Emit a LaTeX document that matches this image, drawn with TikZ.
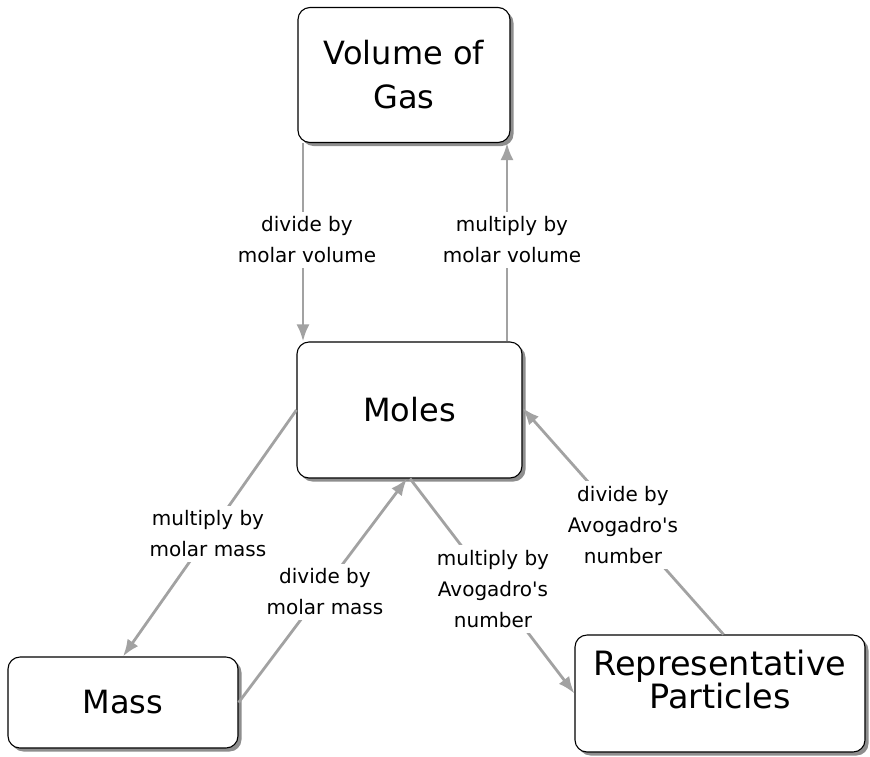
\documentclass[tikz,border=0pt]{standalone}
\usepackage{fontspec}
\setmainfont{DejaVu Sans}
\usetikzlibrary{arrows.meta,shadows}
\definecolor{arrowgray}{HTML}{A2A2A2}
\definecolor{shadowgray}{HTML}{8E8E8E}
\begin{document}
\begin{tikzpicture}[x=1pt,y=-1pt,
  conceptbox/.style={draw=black, line width=1.1pt, rounded corners=12pt, fill=white,
    inner sep=0pt, align=center,
    drop shadow={shadow xshift=3.5pt, shadow yshift=-3.5pt, fill=shadowgray, opacity=1}},
  bigtext/.style={font=\fontsize{32}{44}\selectfont},
  steplabel/.style={fill=white, inner sep=5pt, align=center, font=\fontsize{20}{31}\selectfont},
  conv/.style={draw=arrowgray, line width=2.8pt,
    -{Latex[length=17pt,width=13pt,fill=arrowgray]}}
]
\useasboundingbox (0,0) rectangle (870,756);

% boxes
\node[conceptbox, bigtext, minimum width=212pt, minimum height=135pt] (vol) at (404,75) {Volume of\\Gas};
\node[conceptbox, bigtext, minimum width=225pt, minimum height=136pt] (moles) at (409.5,410) {Moles};
\node[conceptbox, bigtext, minimum width=230pt, minimum height=91pt] (mass) at (123,702.5) {Mass};
\node[conceptbox, minimum width=290pt, minimum height=117pt] (rep) at (720,693.5) {};
\node[align=center, inner sep=0pt, font=\fontsize{33.5}{31}\selectfont] (reptext) at ([yshift=14pt]rep.center) {Representative\\Particles};

% connectors
\draw[conv] ([xshift=-101pt]vol.south) -- ([xshift=-106.5pt]moles.north);
\draw[conv] ([xshift=97.5pt]moles.north) -- ([xshift=103pt]vol.south);
\draw[conv] (moles.west) -- (mass.north);
\draw[conv] (mass.east) -- ([xshift=-2.5pt]moles.south);
\draw[conv] ([xshift=0.5pt]moles.south) -- (rep.west);
\draw[conv] ([xshift=3.5pt]rep.north) -- ([yshift=2pt]moles.east);

% labels
\node[steplabel] (l1) at (307,240) {divide by\\molar volume};
\node[steplabel] (l2) at (512,240) {multiply by\\molar volume};
\node[steplabel] (l3) at (208,534) {multiply by\\molar mass};
\node[steplabel] (l4) at (325,592) {divide by\\molar mass};
\node[steplabel] (l5) at (493,589) {multiply by\\Avogadro\textquotesingle s\\number};
\node[steplabel] (l6) at (623,525) {divide by\\Avogadro\textquotesingle s\\number};
\end{tikzpicture}
\end{document}
